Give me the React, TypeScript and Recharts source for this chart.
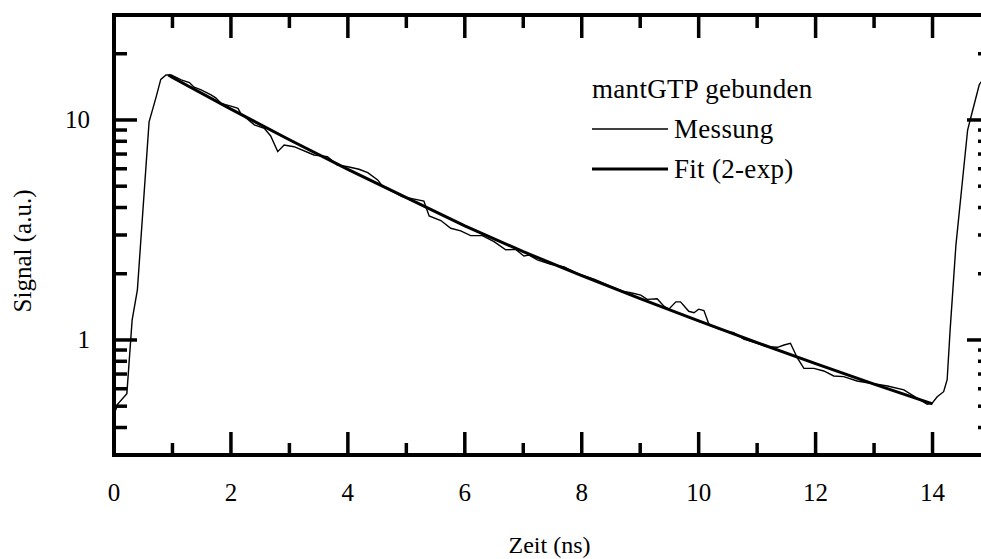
import { LineChart, Line, XAxis, YAxis, Legend } from "recharts"

// Messung: Zeit (ns) / Signal (a.u.)
const measTime = [
  0.03, 0.06, 0.22, 0.31, 0.4, 0.6, 0.72, 0.8, 0.89, 0.98,
  1.15, 1.29, 1.37, 1.49, 1.66, 1.74, 1.83, 2.03, 2.12, 2.17,
  2.4, 2.57, 2.68, 2.8, 2.91, 3.08, 3.42, 3.65, 3.82, 4.0,
  4.19, 4.34, 4.51, 4.59, 4.93, 5.3, 5.39, 5.59, 5.76, 5.93,
  6.1, 6.3, 6.5, 6.7, 6.87, 7.01, 7.1, 7.24, 7.47, 7.7,
  7.93, 8.21, 8.44, 8.72, 8.84, 9.01, 9.12, 9.29, 9.41, 9.49,
  9.61, 9.69, 9.83, 9.92, 10.0, 10.09, 10.18, 10.35, 10.46, 10.6,
  10.77, 11.0, 11.17, 11.35, 11.46, 11.57, 11.69, 11.8, 11.97, 12.14,
  12.31, 12.48, 12.71, 12.94, 13.23, 13.51, 13.68, 13.91, 13.99, 14.08,
  14.19, 14.25, 14.3, 14.4, 14.6, 14.68, 14.8, 14.92,
]
const measSignal = [
  0.48, 0.51, 0.57, 1.23, 1.69, 9.8, 12.7, 15.3, 16.0, 16.0,
  15.2, 14.8, 14.1, 13.7, 13.0, 12.6, 11.9, 11.5, 11.3, 10.7,
  9.5, 9.17, 8.46, 7.18, 7.7, 7.56, 6.93, 6.81, 6.24, 6.13,
  5.97, 5.76, 5.34, 5.01, 4.48, 4.28, 3.66, 3.49, 3.22, 3.13,
  2.98, 2.98, 2.8, 2.57, 2.58, 2.41, 2.43, 2.31, 2.21, 2.15,
  2.0, 1.89, 1.78, 1.66, 1.64, 1.6, 1.53, 1.54, 1.42, 1.38,
  1.49, 1.49, 1.35, 1.33, 1.38, 1.36, 1.17, 1.12, 1.1, 1.08,
  1.01, 0.966, 0.933, 0.926, 0.949, 0.966, 0.826, 0.743, 0.743, 0.723,
  0.686, 0.681, 0.651, 0.636, 0.618, 0.593, 0.556, 0.51, 0.515, 0.552,
  0.582, 0.66, 1.1, 2.7, 9.0, 10.9, 14.5, 16.0,
]

// Fit (2-exp)
const fitTime = [0.93, 1, 2, 3, 4, 5, 6, 7, 8, 9, 10, 11, 12, 13, 14]
const fitSignal = [16.0, 15.6, 11.2, 8.13, 5.96, 4.44, 3.3, 2.52, 1.96, 1.54, 1.22, 0.973, 0.78, 0.63, 0.512]

const xTicks = [0, 1, 2, 3, 4, 5, 6, 7, 8, 9, 10, 11, 12, 13, 14]
const yTicks = [0.4, 0.5, 0.6, 0.7, 0.8, 0.9, 1, 2, 3, 4, 5, 6, 7, 8, 9, 10, 20]
const yLabels = [1, 10]
const legendOrder = ["Messung", "Fit (2-exp)"]

const measData = measTime.map((t, i) => ({ t, v: measSignal[i] }))
const fitData = fitTime.map((t, i) => ({ t, v: fitSignal[i] }))

const FONT = '"Liberation Serif", "Times New Roman", serif'
const lineWidth: Record<string, number> = { Messung: 1.4, "Fit (2-exp)": 3 }
const axisLine = { stroke: "#000", strokeWidth: 4, strokeLinecap: "square" as const }

function BottomTick({ x, y, payload }: any) {
  const major = payload.value % 2 === 0
  return (
    <g>
      <line x1={x} x2={x} y1={y} y2={y - (major ? 23 : 12)} stroke="#000" strokeWidth={3.5} />
      {major && (
        <text x={x} y={y + 46} textAnchor="middle" fontFamily={FONT} fontSize={25} fill="#000">
          {payload.value}
        </text>
      )}
    </g>
  )
}

function TopTick({ x, y, payload }: any) {
  const major = payload.value % 2 === 0
  return <line x1={x} x2={x} y1={y} y2={y + (major ? 23 : 13)} stroke="#000" strokeWidth={3.5} />
}

function LeftTick({ x, y, payload }: any) {
  const major = yLabels.includes(payload.value)
  return (
    <g>
      <line x1={x} x2={x + (major ? 23 : 13)} y1={y} y2={y} stroke="#000" strokeWidth={3.5} />
      {major && (
        <text x={x - 24} y={y + 8} textAnchor="end" fontFamily={FONT} fontSize={25} fill="#000">
          {payload.value}
        </text>
      )}
    </g>
  )
}

function RightTick({ x, y, payload }: any) {
  const major = yLabels.includes(payload.value)
  return <line x1={x} x2={x - (major ? 24 : 13)} y1={y} y2={y} stroke="#000" strokeWidth={3.5} />
}

function renderLegend({ payload }: any) {
  const items = [...(payload || [])].sort(
    (a: any, b: any) => legendOrder.indexOf(a.value) - legendOrder.indexOf(b.value)
  )
  return (
    <div style={{ fontFamily: FONT, fontSize: 27, letterSpacing: 0.3, color: "#000", lineHeight: "40px" }}>
      <div>mantGTP gebunden</div>
      {items.map((p: any) => (
        <div key={p.value} style={{ display: "flex", alignItems: "center", height: 40 }}>
          <svg width={76} height={8}>
            <line x1={0} x2={76} y1={4} y2={4} stroke="#000" strokeWidth={lineWidth[p.value]} />
          </svg>
          <span style={{ marginLeft: 6 }}>{p.value}</span>
        </div>
      ))}
    </div>
  )
}

export default function App() {
  return (
    <div style={{ position: "absolute", left: 0, top: 0, width: 981, height: 559, overflow: "hidden", background: "#fff" }}>
      <LineChart width={1020} height={559} margin={{ top: 14, right: 19, bottom: 0, left: 0 }}>
        <XAxis
          xAxisId="bottom"
          dataKey="t"
          type="number"
          domain={[0, 15]}
          allowDataOverflow
          ticks={xTicks}
          interval={0}
          height={104}
          tickSize={0}
          tickMargin={0}
          tickLine={false}
          axisLine={axisLine}
          tick={<BottomTick />}
          label={{
            content: ({ viewBox }: any) => (
              <text x={viewBox.x + viewBox.width / 2 - 3} y={viewBox.y + 98} textAnchor="middle" fontFamily={FONT} fontSize={24} fill="#000">
                Zeit (ns)
              </text>
            ),
          }}
        />
        <XAxis
          xAxisId="top"
          orientation="top"
          dataKey="t"
          type="number"
          domain={[0, 15]}
          allowDataOverflow
          ticks={xTicks}
          interval={0}
          height={1}
          tickSize={0}
          tickMargin={0}
          tickLine={false}
          axisLine={axisLine}
          tick={<TopTick />}
        />
        <YAxis
          yAxisId="left"
          type="number"
          scale="log"
          domain={[0.3, 30]}
          allowDataOverflow
          ticks={yTicks}
          interval={0}
          width={114}
          tickSize={0}
          tickMargin={0}
          tickLine={false}
          axisLine={axisLine}
          tick={<LeftTick />}
          label={{
            content: ({ viewBox }: any) => {
              const cx = 31
              const cy = viewBox.y + 236
              return (
                <text x={cx} y={cy} transform={`rotate(-90 ${cx} ${cy})`} textAnchor="middle" fontFamily={FONT} fontSize={25} fill="#000">
                  Signal (a.u.)
                </text>
              )
            },
          }}
        />
        <YAxis
          yAxisId="right"
          orientation="right"
          type="number"
          scale="log"
          domain={[0.3, 30]}
          allowDataOverflow
          ticks={yTicks}
          interval={0}
          width={10}
          tickSize={0}
          tickMargin={0}
          tickLine={false}
          axisLine={axisLine}
          tick={<RightTick />}
        />
        <Legend layout="vertical" align="center" verticalAlign="middle" wrapperStyle={{ left: 592, top: 69, width: 320 }} content={renderLegend} />
        <Line
          name="Messung"
          data={measData}
          xAxisId="bottom"
          yAxisId="left"
          dataKey="v"
          type="linear"
          stroke="#000"
          strokeWidth={1.4}
          dot={false}
          isAnimationActive={false}
        />
        <Line
          name="Fit (2-exp)"
          data={fitData}
          xAxisId="top"
          yAxisId="right"
          dataKey="v"
          type="linear"
          stroke="#000"
          strokeWidth={3}
          dot={false}
          isAnimationActive={false}
        />
      </LineChart>
    </div>
  )
}
